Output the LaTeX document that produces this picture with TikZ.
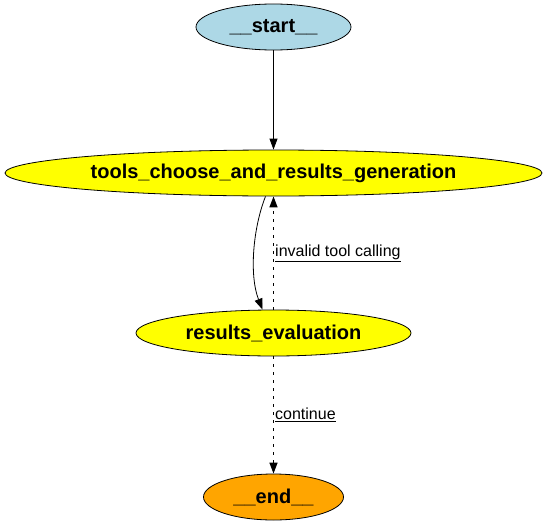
\documentclass[tikz,border=0pt]{standalone}
\usepackage{fontspec}
\setmainfont{Liberation Sans}
\usetikzlibrary{shapes.geometric,arrows.meta}

\definecolor{startblue}{RGB}{173,216,230}
\definecolor{nodeyellow}{RGB}{255,255,0}
\definecolor{endorange}{RGB}{255,165,0}

\tikzset{
  state/.style={ellipse, draw=black, line width=0.8pt, inner sep=0pt,
    minimum height=46pt, font=\fontsize{20}{24}\selectfont\bfseries},
  edge/.style={-{Triangle[length=11pt,width=8pt]}, line width=0.8pt},
  cond/.style={edge, dash pattern=on 2.5pt off 5.5pt, line width=1.4pt},
  elabel/.style={font=\fontsize{16}{19}\selectfont, inner sep=0pt}
}

\begin{document}
\begin{tikzpicture}[x=1pt,y=-1pt]
\useasboundingbox (0,0) rectangle (548,527);

\node[state, fill=startblue, minimum width=155pt] (start) at (273.5,27) {\_\_start\_\_};
\node[state, fill=nodeyellow, minimum width=537pt] (tools) at (273.5,173) {tools\_choose\_and\_results\_generation};
\node[state, fill=nodeyellow, minimum width=275pt] (eval) at (273.5,333) {results\_evaluation};
\node[state, fill=endorange, minimum width=140pt] (end) at (273.5,497) {\_\_end\_\_};

\draw[edge] (start) -- (tools);
\draw[edge] ([xshift=-8pt]tools.south) .. controls (253,228) and (249,275) .. ([xshift=-11pt]eval.north);
\draw[cond] (eval.north) -- (tools.south)
  node[elabel, pos=0.5, anchor=west, xshift=1pt] {\underline{invalid tool calling}};
\draw[cond] (eval.south) -- (end.north)
  node[elabel, pos=0.5, anchor=west, xshift=1pt] {\underline{continue}};
\end{tikzpicture}
\end{document}
